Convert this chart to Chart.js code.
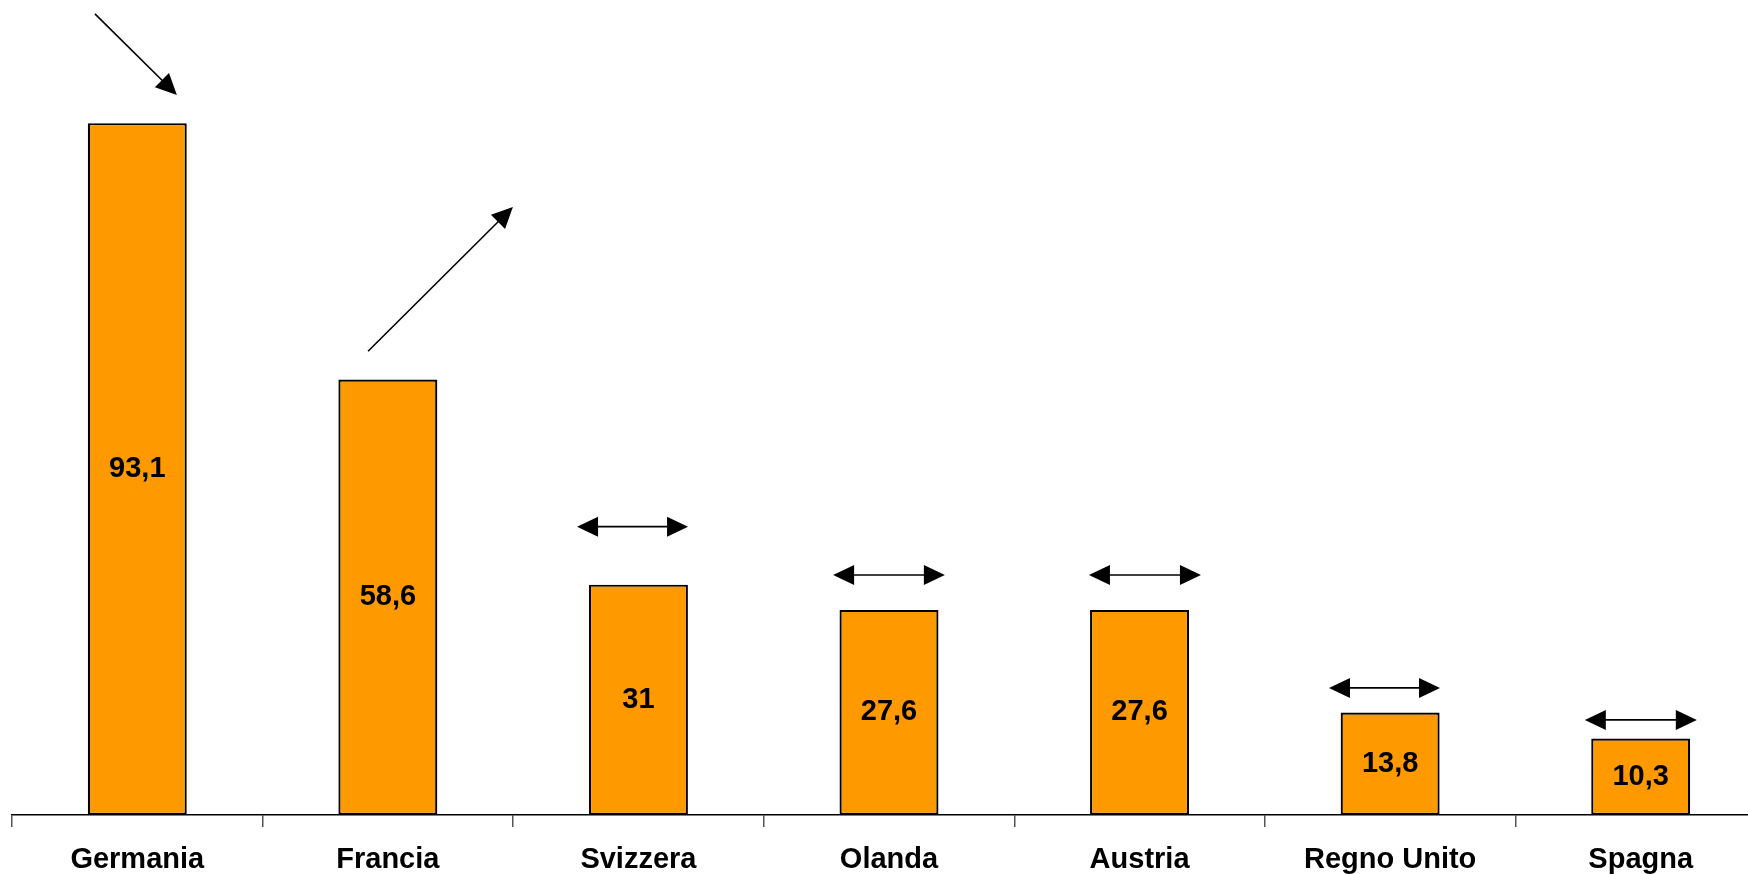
<!DOCTYPE html>
<html>
<head>
<meta charset="utf-8">
<script src="https://cdn.jsdelivr.net/npm/chart.js@4/dist/chart.umd.min.js"></script>
<style>
  html, body { margin: 0; padding: 0; background: #fff; overflow: hidden; }
  #wrap { position: absolute; left: 0; top: 0; width: 1766px; height: 874px; }
</style>
</head>
<body>
<div id="wrap"><canvas id="myChart" width="1766" height="874"></canvas></div>
<script>
// data
var countries = ['Germania', 'Francia', 'Svizzera', 'Olanda', 'Austria', 'Regno Unito', 'Spagna'];
var values = [93.1, 58.6, 31, 27.6, 27.6, 13.8, 10.3];

// trend arrows: [offset in category, value] for start and end, number of heads
var trendFrom = [[-0.169, 107.8], [-0.079, 62.4], [-0.245, 38.8], [-0.223, 32.3], [-0.202, 32.3], [-0.244, 17.1], [-0.223, 12.8]];
var trendTo = [[0.158, 96.9], [0.499, 81.8], [0.198, 38.8], [0.223, 32.3], [0.245, 32.3], [0.199, 17.1], [0.224, 12.8]];
var trendHeads = [1, 1, 2, 2, 2, 2, 2];

var font = '"Liberation Sans", Arial, sans-serif';

function head(ctx, x1, y1, x2, y2) {
  var a = Math.atan2(y2 - y1, x2 - x1);
  var len = 21, half = 10;
  ctx.beginPath();
  ctx.moveTo(x2, y2);
  ctx.lineTo(x2 - len * Math.cos(a) + half * Math.sin(a), y2 - len * Math.sin(a) - half * Math.cos(a));
  ctx.lineTo(x2 - len * Math.cos(a) - half * Math.sin(a), y2 - len * Math.sin(a) + half * Math.cos(a));
  ctx.closePath();
  ctx.fill();
}

// value labels inside bars
var valueLabels = {
  id: 'valueLabels',
  afterDatasetsDraw: function(chart) {
    var ctx = chart.ctx;
    var meta = chart.getDatasetMeta(0);
    ctx.save();
    ctx.font = 'bold 29px ' + font;
    ctx.fillStyle = '#000';
    ctx.textAlign = 'center';
    ctx.textBaseline = 'middle';
    meta.data.forEach(function(bar, i) {
      var txt = String(values[i]).replace('.', ',');
      ctx.fillText(txt, bar.x, (bar.y + bar.base) / 2);
    });
    ctx.restore();
  }
};

// trend arrows
var trendArrows = {
  id: 'trendArrows',
  afterDatasetsDraw: function(chart) {
    var ctx = chart.ctx;
    var xs = chart.scales.x, ys = chart.scales.y;
    var step = xs.width / countries.length;
    ctx.save();
    ctx.strokeStyle = '#000';
    ctx.fillStyle = '#000';
    ctx.lineWidth = 1.6;
    for (var i = 0; i < countries.length; i++) {
      var cx = xs.getPixelForValue(i);
      var x1 = cx + trendFrom[i][0] * step, y1 = ys.getPixelForValue(trendFrom[i][1]);
      var x2 = cx + trendTo[i][0] * step, y2 = ys.getPixelForValue(trendTo[i][1]);
      var a = Math.atan2(y2 - y1, x2 - x1);
      var sx = x1, sy = y1, ex = x2 - 18 * Math.cos(a), ey = y2 - 18 * Math.sin(a);
      if (trendHeads[i] == 2) {
        sx = x1 + 18 * Math.cos(a);
        sy = y1 + 18 * Math.sin(a);
      }
      ctx.beginPath();
      ctx.moveTo(sx, sy);
      ctx.lineTo(ex, ey);
      ctx.stroke();
      head(ctx, x1, y1, x2, y2);
      if (trendHeads[i] == 2) head(ctx, x2, y2, x1, y1);
    }
    ctx.restore();
  }
};

var ctx = document.getElementById('myChart').getContext('2d');
var myChart = new Chart(ctx, {
  type: 'bar',
  data: {
    labels: countries,
    datasets: [{
      data: values,
      backgroundColor: '#FF9900',
      borderColor: '#000',
      borderWidth: 2.2,
      borderSkipped: false,
      barPercentage: 0.395,
      categoryPercentage: 1
    }]
  },
  options: {
    responsive: false,
    animation: false,
    layout: { padding: { left: 12, right: 0, top: 2, bottom: 0 } },
    plugins: { legend: { display: false }, tooltip: { enabled: false } },
    scales: {
      y: { display: false, min: 0, max: 109.4 },
      x: {
        afterFit: function(s) { s.height = 59; },
        border: { display: true, color: '#000', width: 1.5 },
        grid: { display: true, drawOnChartArea: false, drawTicks: true, tickLength: 12, color: '#555', lineWidth: 1.5, offset: true },
        ticks: {
          color: '#000',
          padding: 16,
          maxRotation: 0,
          autoSkip: false,
          font: { family: font, size: 29, weight: 'bold' }
        }
      }
    }
  },
  plugins: [valueLabels, trendArrows]
});
</script>
</body>
</html>
